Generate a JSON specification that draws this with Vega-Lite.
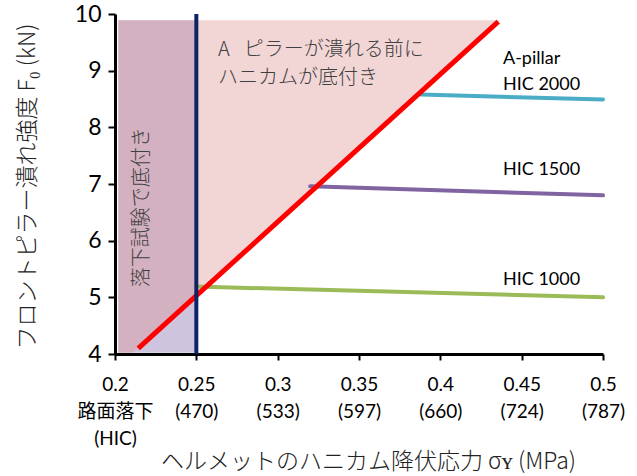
{
  "$schema": "https://vega.github.io/schema/vega-lite/v6.json",
  "width": 488,
  "height": 340,
  "autosize": {"type": "none"},
  "padding": {"left": 115, "top": 14, "right": 34, "bottom": 122},
  "background": "white",
  "config": {"view": {"stroke": null}},
  "datasets": {
    "lavender": [{"x": 0.202, "x2": 0.25, "y": 4.02, "y2": 9.89}],
    "pink": [
      {"x": 0.202, "y": 4.02, "y2": 9.89},
      {"x": 0.2112, "y": 4.02, "y2": 9.89},
      {"x": 0.4366, "y": 9.89, "y2": 9.89}
    ],
    "red": [{"x": 0.2143, "y": 4.1}, {"x": 0.4356, "y": 9.864}],
    "blue": [{"x": 0.25, "y": 4, "y2": 10}],
    "series": [
      {"series": "HIC 2000", "x": 0.388, "y": 8.58},
      {"series": "HIC 2000", "x": 0.5, "y": 8.49},
      {"series": "HIC 1500", "x": 0.32, "y": 6.96},
      {"series": "HIC 1500", "x": 0.5, "y": 6.8},
      {"series": "HIC 1000", "x": 0.25, "y": 5.19},
      {"series": "HIC 1000", "x": 0.5, "y": 5.0}
    ],
    "notesJP": [
      {"t": "A\u2002\u2009ピラーが潰れる前に", "x": 0.2633, "y": 9.37},
      {"t": "ハニカムが底付き", "x": 0.2633, "y": 8.87}
    ],
    "notesV": [{"t": "落下試験で底付き", "x": 0.2166, "y": 6.59}],
    "notesHIC": [
      {"t": "A-pillar", "x": 0.4385, "y": 9.2},
      {"t": "HIC 2000", "x": 0.4385, "y": 8.74},
      {"t": "HIC 1500", "x": 0.4385, "y": 7.25},
      {"t": "HIC 1000", "x": 0.4385, "y": 5.31}
    ]
  },
  "encoding": {
    "x": {
      "field": "x",
      "type": "quantitative",
      "scale": {"domain": [0.2, 0.5], "nice": false, "zero": false},
      "axis": {
        "title": "ヘルメットのハニカム降伏応力 σʏ (MPa)",
        "titleFont": "Noto Sans CJK JP",
        "titleFontWeight": 300,
        "titleFontSize": 23,
        "titleColor": "#222222",
        "titleX": 253,
        "titleY": 107,
        "titleBaseline": "middle",
        "titleAlign": "center",
        "values": [0.2, 0.25, 0.3, 0.35, 0.4, 0.45, 0.5],
        "labelExpr": "round(datum.value*100)==20 ? ['0.2','路面落下','(HIC)'] : round(datum.value*100)==25 ? ['0.25','(470)'] : round(datum.value*100)==30 ? ['0.3','(533)'] : round(datum.value*100)==35 ? ['0.35','(597)'] : round(datum.value*100)==40 ? ['0.4','(660)'] : round(datum.value*100)==45 ? ['0.45','(724)'] : ['0.5','(787)']",
        "labelFont": "Lato, Noto Sans CJK JP",
        "labelFontSize": 19,
        "labelFontWeight": 400,
        "labelLineHeight": 27,
        "labelColor": "black",
        "labelPadding": 15,
        "labelFlush": false,
        "labelOverlap": false,
        "grid": false,
        "domainColor": "black",
        "domainWidth": 3,
        "tickColor": "black",
        "tickWidth": 2,
        "tickSize": 6
      }
    },
    "y": {
      "field": "y",
      "type": "quantitative",
      "scale": {"domain": [4, 10], "nice": false, "zero": false},
      "axis": {
        "title": "フロントピラー潰れ強度  F₀ (kN)",
        "titleFont": "Noto Sans CJK JP",
        "titleFontWeight": 300,
        "titleFontSize": 23,
        "titleColor": "#222222",
        "titleAngle": 270,
        "titleX": -88,
        "titleY": 172,
        "titleBaseline": "middle",
        "titleAlign": "center",
        "values": [4, 5, 6, 7, 8, 9, 10],
        "labelFont": "Lato",
        "labelFontSize": 23,
        "labelColor": "black",
        "labelPadding": 7,
        "grid": false,
        "domainColor": "black",
        "domainWidth": 3,
        "tickColor": "black",
        "tickWidth": 2,
        "tickSize": 7
      }
    }
  },
  "layer": [
    {
      "data": {"name": "lavender"},
      "mark": {"type": "rect", "color": "#CEC4DE"},
      "encoding": {"x2": {"field": "x2"}, "y2": {"field": "y2"}}
    },
    {
      "data": {"name": "pink"},
      "mark": {"type": "area", "color": "#DC9090", "opacity": 0.37, "orient": "vertical"},
      "encoding": {"y2": {"field": "y2"}}
    },
    {
      "data": {"name": "series"},
      "mark": {"type": "line", "strokeWidth": 4, "strokeCap": "round"},
      "encoding": {
        "color": {
          "field": "series",
          "type": "nominal",
          "scale": {"domain": ["HIC 2000", "HIC 1500", "HIC 1000"], "range": ["#4BACC6", "#8064A2", "#9BBB59"]},
          "legend": null
        }
      }
    },
    {
      "data": {"name": "red"},
      "mark": {"type": "line", "color": "#FF0000", "strokeWidth": 5}
    },
    {
      "data": {"name": "blue"},
      "mark": {"type": "rule", "color": "#0C2365", "strokeWidth": 4},
      "encoding": {"y2": {"field": "y2"}}
    },
    {
      "data": {"name": "notesJP"},
      "mark": {"type": "text", "align": "left", "baseline": "middle", "font": "Noto Sans CJK JP", "fontWeight": 300, "fontSize": 20, "color": "#404040"},
      "encoding": {"text": {"field": "t"}}
    },
    {
      "data": {"name": "notesV"},
      "mark": {"type": "text", "align": "center", "baseline": "middle", "angle": 270, "font": "Noto Sans CJK JP", "fontWeight": 300, "fontSize": 20, "color": "#404040"},
      "encoding": {"text": {"field": "t"}}
    },
    {
      "data": {"name": "notesHIC"},
      "mark": {"type": "text", "align": "left", "baseline": "middle", "font": "Lato", "fontSize": 18, "color": "black"},
      "encoding": {"text": {"field": "t"}}
    }
  ]
}
